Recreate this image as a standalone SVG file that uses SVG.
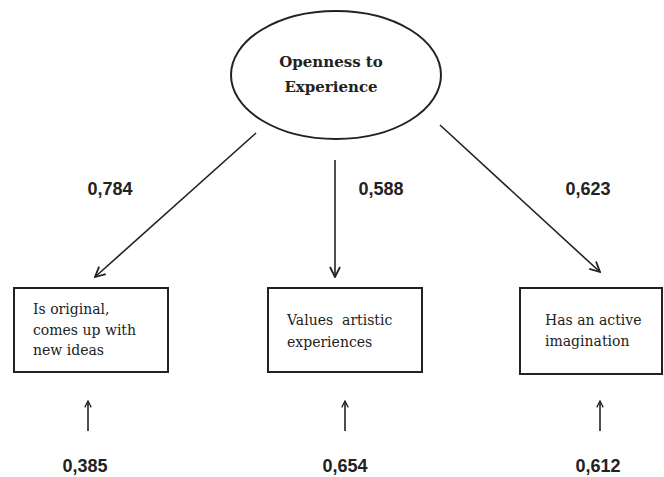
<svg xmlns="http://www.w3.org/2000/svg" width="664" height="477" viewBox="0 0 664 477">
<defs>
<style>
.n{fill:#fff;stroke:#222;stroke-width:2}
.t{font-family:"DejaVu Serif","Liberation Serif",serif;font-size:14px;fill:#222}
.h{font-family:"DejaVu Serif","Liberation Serif",serif;font-size:15px;font-weight:bold;fill:#222}
.l{font-family:"Liberation Sans","DejaVu Sans",sans-serif;font-size:18px;font-weight:bold;fill:#222}
.c{stroke:#222;stroke-width:1.6;fill:none;marker-end:url(#a)}
.e{stroke:#222;stroke-width:1.6;fill:none;marker-end:url(#b)}
</style>
<marker id="a" viewBox="0 0 12 12" refX="11" refY="6" markerWidth="12" markerHeight="12" markerUnits="userSpaceOnUse" orient="auto">
<path d="M1,1 L11,6 L1,11" fill="none" stroke="#222" stroke-width="1.8"/>
</marker>
<marker id="b" viewBox="0 0 10 10" refX="9" refY="5" markerWidth="8" markerHeight="8" markerUnits="userSpaceOnUse" orient="auto">
<path d="M1,1 L9,5 L1,9" fill="none" stroke="#222" stroke-width="1.6"/>
</marker>
</defs>
<rect width="664" height="477" fill="#fff"/>
<g id="openness">
<ellipse class="n" cx="336" cy="75" rx="105" ry="64"/>
<text class="h" x="331" y="67" text-anchor="middle">Openness to</text>
<text class="h" x="331" y="92" text-anchor="middle">Experience</text>
</g>
<g id="original">
<rect class="n" x="14" y="288" width="154" height="84"/>
<text class="t" x="33" y="314">Is original,</text>
<text class="t" x="33" y="335">comes up with</text>
<text class="t" x="33" y="355">new ideas</text>
</g>
<g id="artistic">
<rect class="n" x="268" y="288" width="154" height="84"/>
<text class="t" x="287" y="325" xml:space="preserve">Values  artistic</text>
<text class="t" x="287" y="347">experiences</text>
</g>
<g id="imagination">
<rect class="n" x="520" y="288" width="142" height="86"/>
<text class="t" x="545" y="325">Has an active</text>
<text class="t" x="545" y="346">imagination</text>
</g>
<g id="connectors">
<line class="c" x1="256" y1="133" x2="95" y2="277"/>
<line class="c" x1="335" y1="160" x2="335" y2="277"/>
<line class="c" x1="440" y1="125" x2="600" y2="272"/>
<line class="e" x1="88" y1="431" x2="88" y2="401"/>
<line class="e" x1="345" y1="431" x2="345" y2="401"/>
<line class="e" x1="600" y1="431" x2="600" y2="401"/>
</g>
<g id="labels">
<text class="l" x="110" y="195" text-anchor="middle">0,784</text>
<text class="l" x="381" y="195" text-anchor="middle">0,588</text>
<text class="l" x="588" y="195" text-anchor="middle">0,623</text>
<text class="l" x="85" y="472" text-anchor="middle">0,385</text>
<text class="l" x="345" y="472" text-anchor="middle">0,654</text>
<text class="l" x="598" y="472" text-anchor="middle">0,612</text>
</g>
</svg>
